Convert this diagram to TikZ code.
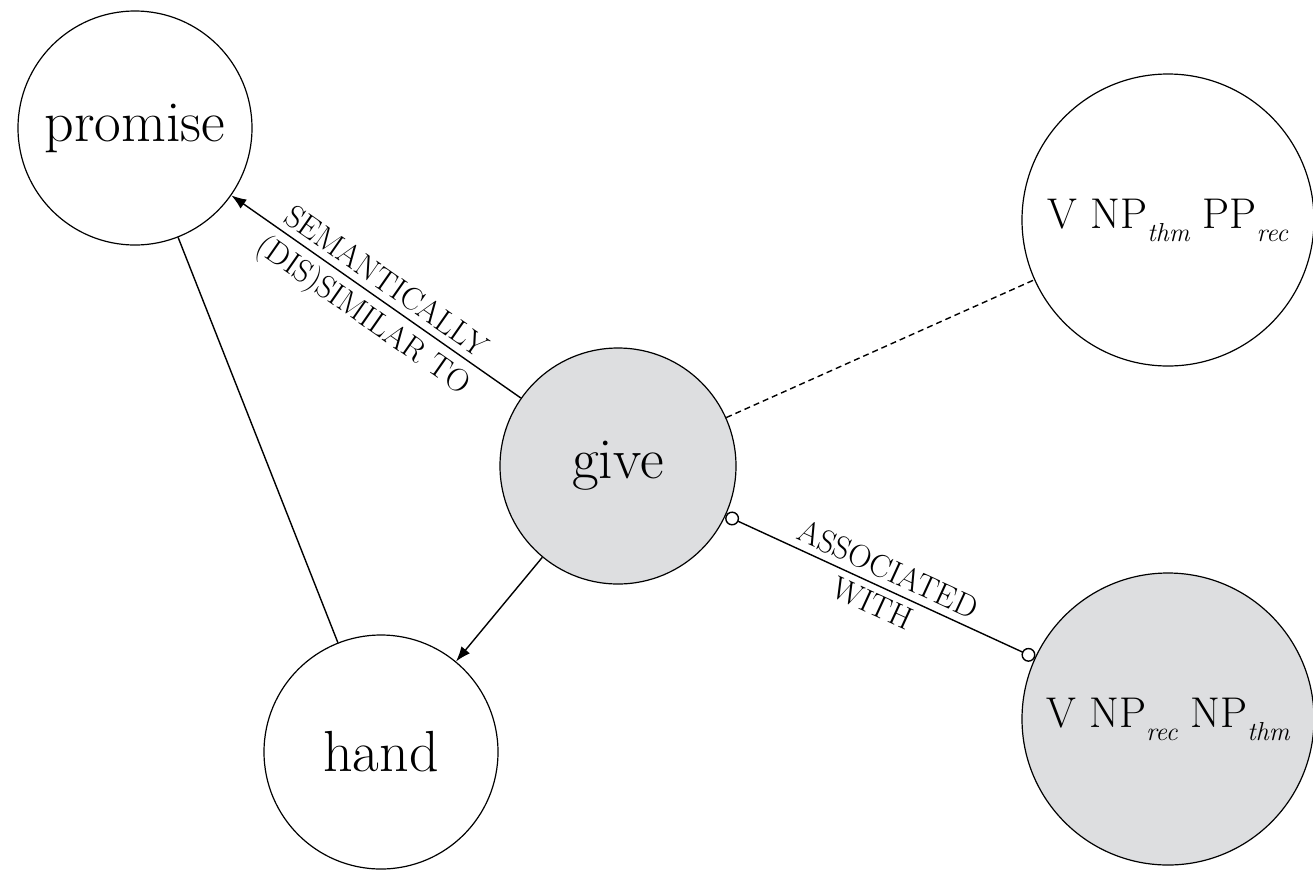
\documentclass[tikz,border=0pt]{standalone}
\usetikzlibrary{arrows.meta}
\definecolor{nodegray}{RGB}{221,222,224}
\newcommand{\sbs}[1]{\raisebox{-0.3em}{\fontsize{13}{13}\selectfont\itshape #1}}
\begin{document}
\begin{tikzpicture}[x=0.5pt,y=-0.5pt,
  cnode/.style={circle, draw, line width=0.6pt, inner sep=0pt, font=\fontsize{29}{32}\selectfont},
  smallc/.style={cnode, minimum size=117pt},
  bigc/.style={cnode, minimum size=146pt, font=\fontsize{21.5}{26}\selectfont},
  shaded/.style={fill=nodegray},
  lab/.style={font=\fontsize{16}{18}\selectfont, sloped, midway, inner sep=3.5pt},
  edge/.style={line width=0.7pt},
  tip/.style={-{Latex[length=7.5pt,width=5.5pt]}}
]
\useasboundingbox (0,0) rectangle (1313,869);
\node[smallc] (promise) at (135,128) {promise};
\node[smallc, shaded, minimum size=118pt] (give) at (618,466) {give};
\node[smallc] (hand) at (381,752) {hand};
\node[bigc] (pp) at (1168,220) {V NP\sbs{thm} PP\sbs{rec}};
\node[bigc, shaded] (np) at (1168,719) {V NP\sbs{rec} NP\sbs{thm}};

\draw[edge, tip] (give) -- (promise)
  node[lab, above] {SEMANTICALLY}
  node[lab, below] {(DIS)SIMILAR TO};
\draw[edge] (promise) -- (hand);
\draw[edge, tip] (give) -- (hand);
\draw[edge, dash pattern=on 3pt off 2pt] (give) -- (pp);
\draw[edge, {Circle[open,length=7pt]}-{Circle[open,length=7pt]}] (give) -- (np)
  node[lab, above] {ASSOCIATED}
  node[lab, below] {WITH};
\end{tikzpicture}
\end{document}
